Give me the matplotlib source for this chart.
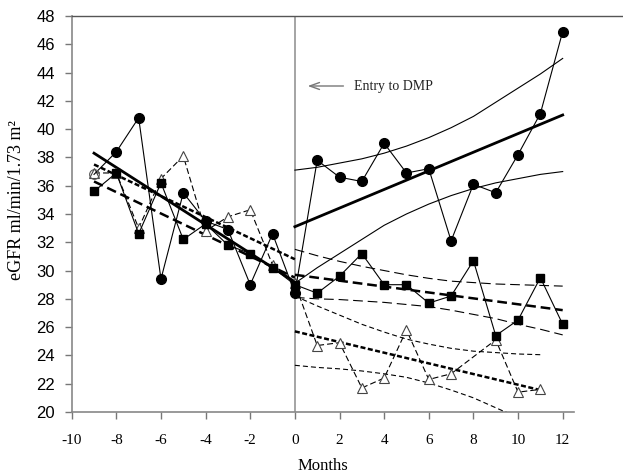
import matplotlib
matplotlib.use('Agg')

import matplotlib.pyplot as plt
from matplotlib.lines import Line2D

plt.rcParams['axes.unicode_minus'] = False
plt.rcParams['lines.scale_dashes'] = False

# ── data ──
circ_month = list(range(-9, 13))
circ_val = [36.8, 38.4, 40.8, 29.4, 35.5, 33.5, 32.9, 29.0, 32.6, 28.4,
            37.8, 36.6, 36.3, 39.0, 36.9, 37.2, 32.1, 36.1, 35.5, 38.2, 41.1, 46.9]

sq_month = list(range(-9, 13))
sq_val = [35.6, 36.9, 32.6, 36.2, 32.2, 33.3, 31.8, 31.2, 30.2, 29.0,
          28.4, 29.6, 31.2, 29.0, 29.0, 27.7, 28.2, 30.7, 25.4, 26.5, 29.5, 26.2]

tri_month = list(range(-9, 8)) + [9, 10, 11]
tri_val = [36.9, 36.9, 33.0, 36.5, 38.1, 32.8, 33.8, 34.3, 30.4, 29.1,
           24.7, 24.9, 21.7, 22.4, 25.8, 22.3, 22.7, 25.1, 21.4, 21.6]

# regression lines before entry (month -9 to 0)
pre_fit_month = [-9, 0]
circ_pre_fit = [38.3, 29.2]
sq_pre_fit = [36.3, 29.5]
tri_pre_fit = [37.5, 30.8]

# regression lines + 95% bands after entry
post_month = list(range(0, 13))
circ_fit_month = [0, 12]
circ_fit = [33.1, 41.0]
circ_hi = [37.1, 37.3, 37.6, 37.9, 38.3, 38.8, 39.4, 40.1, 40.9, 41.9, 42.9, 43.9, 45.0]
circ_lo = [29.1, 30.2, 31.2, 32.2, 33.2, 34.0, 34.7, 35.3, 35.8, 36.2, 36.5, 36.8, 37.0]

sq_fit_month = [0, 12]
sq_fit = [29.7, 27.2]
sq_hi = [31.5, 31.05, 30.65, 30.3, 30.0, 29.7, 29.45, 29.25, 29.15, 29.05, 29.0, 28.95, 28.9]
sq_lo = [28.1, 28.0, 27.95, 27.85, 27.75, 27.6, 27.45, 27.2, 26.9, 26.6, 26.2, 25.85, 25.45]

tri_post_month = list(range(0, 12))
tri_fit_month = [0, 11]
tri_fit = [25.7, 21.55]
tri_hi = [28.2, 27.5, 26.85, 26.2, 25.65, 25.15, 24.8, 24.5, 24.3, 24.2, 24.1, 24.05]
tri_lo = [23.3, 23.15, 23.05, 22.9, 22.7, 22.45, 22.05, 21.55, 21.0, 20.3, 19.6, 18.9]

xticks = list(range(-10, 13, 2))
xtick_labels = [str(t) for t in xticks]
yticks = list(range(20, 49, 2))

SERIF = ['Liberation Serif', 'DejaVu Serif']
SANS = ['Liberation Sans', 'DejaVu Sans']

fig = plt.figure(figsize=(6.23, 4.76), dpi=100)
ax = fig.add_axes([0.1151, 0.1345, 0.806, 0.8319])

# ── entry line ──
ax.axvline(0, color='#8c8c8c', lw=1.1, zorder=1)

# ── regression lines ──
ax.plot(pre_fit_month, circ_pre_fit, color='black', lw=2.0, zorder=3)
ax.plot(pre_fit_month, sq_pre_fit, color='black', lw=1.8, dashes=(7, 3.5), zorder=3)
ax.plot(pre_fit_month, tri_pre_fit, color='black', lw=1.8, dashes=(3.6, 1.8), zorder=3)

ax.plot(circ_fit_month, circ_fit, color='black', lw=2.0, zorder=3)
ax.plot(post_month, circ_hi, color='black', lw=0.8, zorder=3)
ax.plot(post_month, circ_lo, color='black', lw=0.8, zorder=3)

ax.plot(sq_fit_month, sq_fit, color='black', lw=1.8, dashes=(7, 3.5), zorder=3)
ax.plot(post_month, sq_hi, color='black', lw=0.8, dashes=(7, 3.5), zorder=3)
ax.plot(post_month, sq_lo, color='black', lw=0.8, dashes=(7, 3.5), zorder=3)

ax.plot(tri_fit_month, tri_fit, color='black', lw=1.8, dashes=(3.6, 1.8), zorder=3)
ax.plot(tri_post_month, tri_hi, color='black', lw=0.8, dashes=(3.6, 2.2), zorder=3)
ax.plot(tri_post_month, tri_lo, color='black', lw=0.8, dashes=(3.6, 2.2), zorder=3)

# ── data series ──
ax.plot(tri_month, tri_val, color='black', lw=0.8, dashes=(4.3, 2.2),
        marker='^', markersize=7, markerfacecolor='white', markeredgecolor='#444444',
        markeredgewidth=0.8, zorder=4)
ax.plot(sq_month, sq_val, color='black', lw=0.8,
        marker='s', markersize=6, markerfacecolor='black', markeredgecolor='black', zorder=5)
ax.plot(circ_month, circ_val, color='black', lw=0.8, zorder=5)
ax.plot(circ_month[1:], circ_val[1:], ls='none', marker='o', markersize=7,
        markerfacecolor='black', markeredgecolor='black', zorder=6)
ax.plot(circ_month[:1], circ_val[:1], ls='none', marker='o', markersize=7,
        markerfacecolor='none', markeredgecolor='#555555', markeredgewidth=0.8, zorder=6)

# ── annotation ──
ax.annotate('', xy=(0.45, 43.05), xytext=(2.3, 43.05),
            arrowprops=dict(arrowstyle='->,head_length=0.7,head_width=0.25',
                            color='#777777', lw=1.0))
ax.text(2.65, 43.0, 'Entry to DMP', family=SERIF, fontsize=10,
        ha='left', va='center', color='#222222')

# ── axes styling ──
ax.set_xlim(-10, 12.5)
ax.set_ylim(20, 48)
ax.set_xticks(xticks)
ax.set_xticklabels(xtick_labels, family=SERIF, fontsize=11)
ax.set_yticks(yticks)
ax.set_yticklabels([str(t) for t in yticks], family=SANS, fontsize=12)
ax.tick_params(axis='x', direction='out', length=5, width=1, color='#777777', pad=11)
ax.tick_params(axis='y', direction='out', length=5, width=1, color='#777777', pad=7)

for side in ['top', 'right']:
    ax.spines[side].set_visible(False)
for side in ['left', 'bottom']:
    ax.spines[side].set_color('#888888')
    ax.spines[side].set_linewidth(1.2)

fig.add_artist(Line2D([0.1151, 1.0], [0.9664, 0.9664], transform=fig.transFigure,
                      color='#555555', lw=1.0))

ax.set_xlabel('Months', family=SERIF, fontsize=12, labelpad=8)
fig.text(16.7 / 623, 1 - 200 / 476, 'eGFR ml/min/1.73 m²', family=SERIF, fontsize=13,
         rotation=90, ha='center', va='center')

fig.savefig('out.png', dpi=100, facecolor='white')
